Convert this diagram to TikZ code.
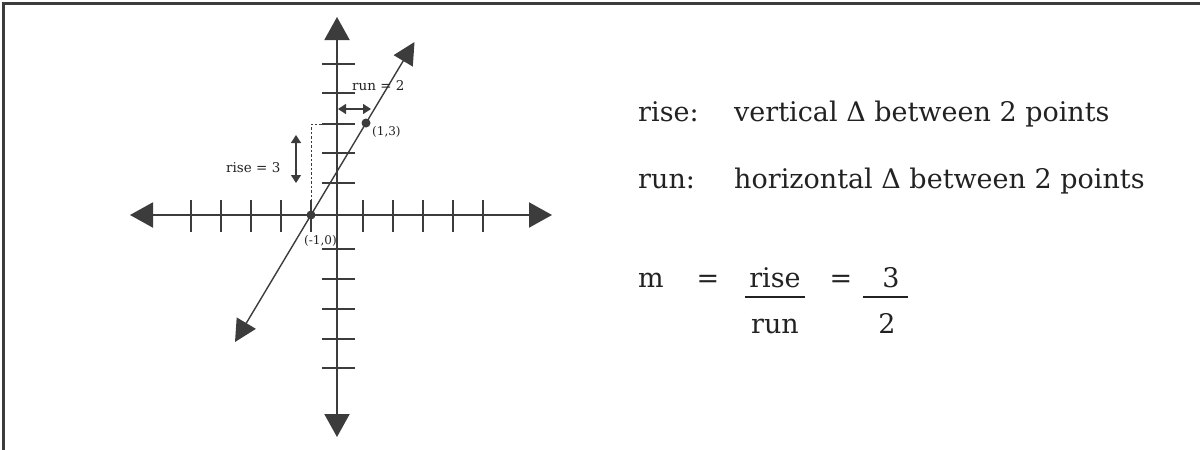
\documentclass[tikz,border=0pt]{standalone}
\usepackage{fontspec}
\setmainfont{DejaVu Serif}
\usetikzlibrary{arrows.meta}
\definecolor{ax}{HTML}{3C3C3C}
\definecolor{tx}{HTML}{222222}
\begin{document}
\begin{tikzpicture}[x=1pt,y=-1pt,
  axis/.style={draw=ax,line width=2pt,{Triangle[length=23pt,width=25pt]}-{Triangle[length=23pt,width=25pt]}},
  tick/.style={draw=ax,line width=1.4pt},
  gline/.style={draw=ax,line width=1.4pt,{Triangle[length=22pt,width=22pt]}-{Triangle[length=22pt,width=22pt]}},
  small/.style={draw=ax,line width=1.3pt,{Triangle[length=8pt,width=10pt]}-{Triangle[length=8pt,width=10pt]}},
  dot/.style={circle,fill=ax,inner sep=0pt,minimum size=9pt},
  glab/.style={text=tx,inner sep=0pt,font=\fontsize{13.5}{15}\selectfont},
  plab/.style={text=tx,inner sep=0pt,font=\fontsize{12}{14}\selectfont},
  big/.style={text=tx,inner sep=0pt,anchor=base west,font=\fontsize{27}{31}\selectfont},
  bigc/.style={text=tx,inner sep=0pt,anchor=base,font=\fontsize{27}{31}\selectfont},
  frame/.style={draw=ax,line width=3pt}]
\useasboundingbox (0,0) rectangle (1200,450);
% frame
\draw[frame] (3,450) -- (3,3) -- (1200,3);
% axes
\coordinate (xl) at (130,215);
\coordinate (xr) at (552,215);
\coordinate (yt) at (337,17);
\coordinate (yb) at (337,437);
\draw[axis] (xl) -- (xr);
\draw[axis] (yt) -- (yb);
% ticks on x axis
\foreach \x in {191,221,251,281,311,363,393,423,453,483}
  \draw[tick] (\x,200) -- (\x,232);
% ticks on y axis
\foreach \y in {64,93,124,153,183,249,279,309,339,368}
  \draw[tick] (322,\y) -- (355,\y);
% dashed guide
\coordinate (dc) at (311,124);
\coordinate (de) at (337,124);
% points
\node[dot] (p1) at (311,215) {};
\node[dot] (p2) at (366,123) {};
\draw[ax,line width=0.9pt,dash pattern=on 2.5pt off 2pt] (p1.center) -- (dc) -- (de);
% line
\coordinate (lt) at (235,342);
\coordinate (ut) at (414.5,42);
\draw[gline] (lt) -- (ut);
% rise / run arrows
\coordinate (ra) at (296,135);
\coordinate (rb) at (296,183);
\draw[small] (ra) -- (rb);
\coordinate (ua) at (338,109);
\coordinate (ub) at (371,109);
\draw[small] (ua) -- (ub);
% labels
\node[glab,anchor=west] (rl) at (226,168) {rise = 3};
\node[glab,anchor=west] (ul) at (352,86) {run = 2};
\node[plab,anchor=west] (l13) at (372,132) {(1,3)};
\node[plab,anchor=west] (l10) at (304,241) {(-1,0)};
% right text
\node[big] (t1a) at (638,121) {rise:};
\node[big] (t1b) at (734,121) {vertical Δ between 2 points};
\node[big] (t2a) at (638,188) {run:};
\node[big] (t2b) at (734,188) {horizontal Δ between 2 points};
\node[big] (m) at (638,287) {m};
\node[bigc] (eq1) at (708,287) {=};
\node[bigc] (num1) at (775,287) {rise};
\node[bigc] (den1) at (775,333) {run};
\draw[tx,line width=2pt] (745,297) -- (805,297);
\node[bigc] (eq2) at (841,287) {=};
\node[bigc] (num2) at (891,287) {3};
\node[bigc] (den2) at (887,333) {2};
\draw[tx,line width=2pt] (863,297) -- (908,297);
\end{tikzpicture}
\end{document}
